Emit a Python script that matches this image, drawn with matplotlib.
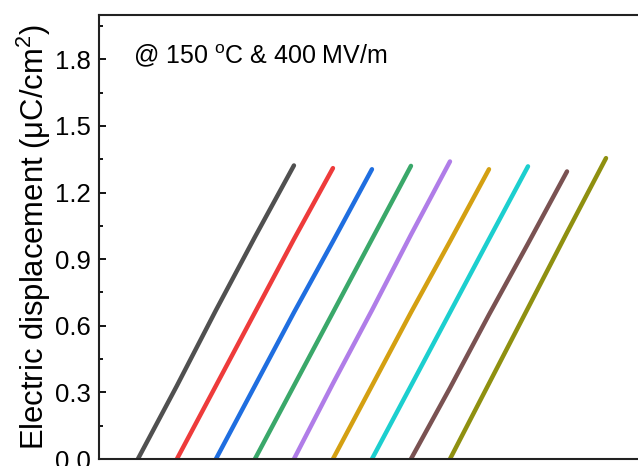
import numpy as np
import matplotlib
matplotlib.use("Agg")
import matplotlib.pyplot as plt
from matplotlib.ticker import MultipleLocator

plt.rcParams['font.family'] = ['Liberation Sans', 'DejaVu Sans']
plt.rcParams['mathtext.fontset'] = 'custom'
plt.rcParams['mathtext.rm'] = 'Liberation Sans'
plt.rcParams['mathtext.it'] = 'Liberation Sans:italic'

# field points of each unipolar charging curve (MV/m)
field = [0, 100, 200, 300, 400]
# each curve is shifted along x by this amount
offsets = [100, 200, 300, 400, 500, 600, 700, 800, 900]

# electric displacement (uC/cm^2) read at the field points
d_values = [
    [0, 0.33, 0.67, 1.00, 1.322],
    [0, 0.33, 0.66, 0.99, 1.31],
    [0, 0.33, 0.66, 0.98, 1.305],
    [0, 0.33, 0.66, 0.99, 1.32],
    [0, 0.34, 0.67, 1.01, 1.34],
    [0, 0.33, 0.66, 0.98, 1.305],
    [0, 0.33, 0.66, 0.99, 1.318],
    [0, 0.32, 0.65, 0.97, 1.295],
    [0, 0.34, 0.68, 1.02, 1.355],
]

colors = ['#505050', '#ee3b3b', '#1f6ee0', '#3aa86a', '#b07de8',
          '#d4a012', '#1ccfcf', '#7a5252', '#8f9010']

fig = plt.figure(figsize=(6.38, 4.66), dpi=100)
ax = fig.add_axes([0.155, 0.015, 0.856, 0.953])

for off, d, c in zip(offsets, d_values, colors):
    x = np.array(field) + off
    ax.plot(x, d, color=c, lw=3.2, solid_capstyle='round')

ax.set_xlim(0, 1400)
ax.set_ylim(0, 2.0)
ax.set_xticks([])
ax.yaxis.set_minor_locator(MultipleLocator(0.15))
ax.set_yticks(np.arange(0, 1.81, 0.3))
ax.set_yticklabels(['0.0', '0.3', '0.6', '0.9', '1.2', '1.5', '1.8'])
ax.tick_params(axis='y', which='major', direction='in', length=5, width=1.3,
               labelsize=18.5, pad=6)
ax.tick_params(axis='y', which='minor', direction='in', length=3, width=1.3)
for s in ax.spines.values():
    s.set_linewidth(1.5)
    s.set_color('#222222')

ax.set_ylabel('Electric displacement (μC/cm$^{2}$)', fontsize=22.3, labelpad=1.5)

ax.text(0.062, 0.89, '@ 150 $^{\\mathregular{o}}$C & 400 MV/m', transform=ax.transAxes,
        fontsize=18, va='baseline', ha='left')

fig.savefig('out.png', dpi=100)
